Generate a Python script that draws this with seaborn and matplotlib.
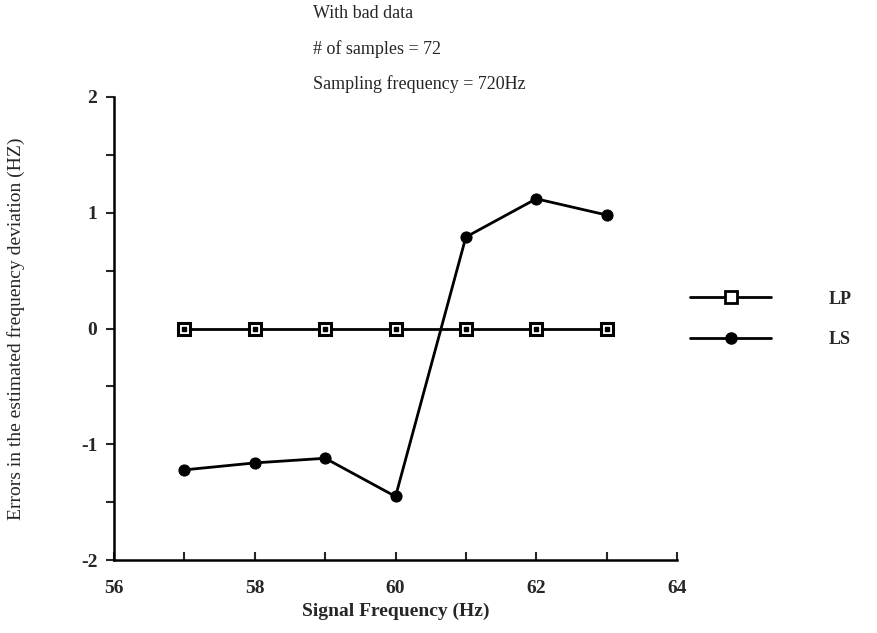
import matplotlib
matplotlib.use("Agg")
import matplotlib.pyplot as plt
import seaborn as sns
import pandas as pd
from matplotlib.ticker import MultipleLocator
from matplotlib.lines import Line2D

freq = [57, 58, 59, 60, 61, 62, 63]
lp_err = [0, 0, 0, 0, 0, 0, 0]
ls_err = [-1.22, -1.16, -1.12, -1.45, 0.79, 1.12, 0.98]
series_names = ["LP", "LS"]
x_ticks = [56, 58, 60, 62, 64]
y_ticks = [-2, -1, 0, 1, 2]
notes = ["With bad data", "# of samples = 72", "Sampling frequency = 720Hz"]

df = pd.DataFrame({
    "freq": freq * 2,
    "err": lp_err + ls_err,
    "series": [series_names[0]] * len(freq) + [series_names[1]] * len(freq),
})

sns.set_style("white")
plt.rcParams["font.family"] = ["Liberation Serif", "DejaVu Serif"]

fig = plt.figure(figsize=(8.78, 6.33), dpi=100)
ax = fig.add_axes([0.130, 0.115, 0.641, 0.732])

sns.lineplot(data=df, x="freq", y="err", hue="series", style="series",
             markers={"LP": "s", "LS": "o"}, dashes=False,
             palette={"LP": "black", "LS": "black"}, linewidth=2,
             markersize=8, ax=ax, legend=False)

for ln in ax.lines:
    ln.set_markeredgecolor("black")
ax.lines[0].set_markerfacecolor("white")
ax.lines[0].set_markeredgewidth(2.2)
ax.lines[0].set_markersize(8)
ax.plot(freq, lp_err, linestyle="none", marker="s", markersize=2.5,
        color="black", zorder=5)

ax.set_xlim(56, 64)
ax.set_ylim(-2, 2)
ax.set_xticks(x_ticks)
ax.set_yticks(y_ticks)
ax.set_xticklabels([str(t) for t in x_ticks], fontweight="bold", fontsize=14)
ax.set_yticklabels([str(t) for t in y_ticks], fontweight="bold", fontsize=14)
ax.xaxis.set_minor_locator(MultipleLocator(1))
ax.yaxis.set_minor_locator(MultipleLocator(0.5))
ax.tick_params(axis="x", which="both", direction="in", length=6, width=1.5,
               bottom=True, pad=14)
ax.tick_params(axis="y", which="both", direction="out", length=6, width=1.5,
               left=True, pad=6)
sns.despine(ax=ax)
for sp in ["left", "bottom"]:
    ax.spines[sp].set_linewidth(1.8)
    ax.spines[sp].set_color("black")

ax.set_xlabel("Signal Frequency (Hz)", fontweight="bold", fontsize=14, labelpad=4)
ax.set_ylabel("Errors in the estimated frequency deviation (HZ)", fontsize=14,
              labelpad=40)

handles = [
    Line2D([], [], color="black", lw=2, marker="s", markersize=8,
           markerfacecolor="white", markeredgecolor="black", markeredgewidth=2),
    Line2D([], [], color="black", lw=2, marker="o", markersize=8,
           markerfacecolor="black", markeredgecolor="black"),
]
leg = ax.legend(handles, series_names, loc="center left",
                bbox_to_anchor=(1.023, 0.52), frameon=False, handlelength=4.5,
                handletextpad=3.2, labelspacing=1.3, borderpad=0,
                borderaxespad=0, prop={"weight": "bold", "size": 13})

ys = [0.978, 0.922, 0.867]
for note, y in zip(notes, ys):
    fig.text(0.356, y, note, fontsize=13, ha="left", va="center")

fig.savefig("out.png", dpi=100)
